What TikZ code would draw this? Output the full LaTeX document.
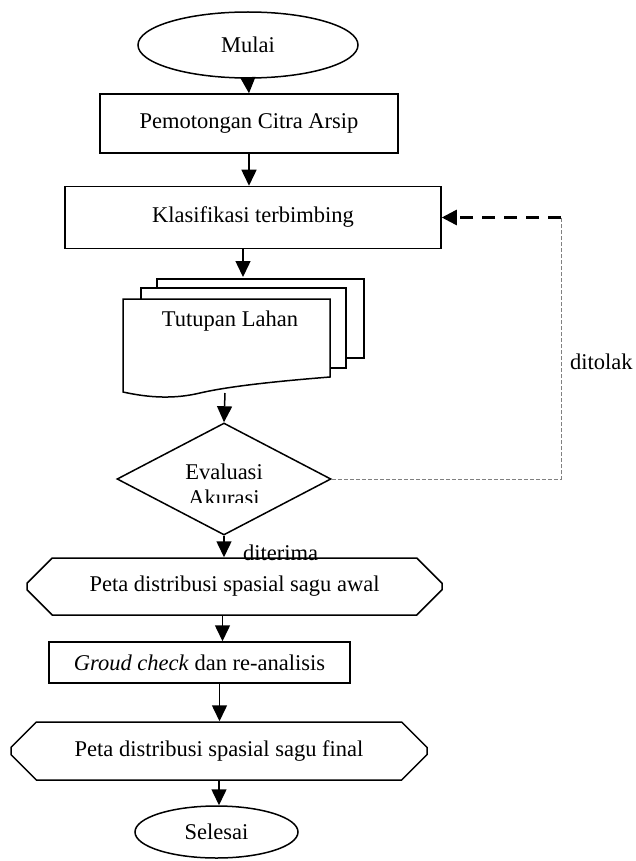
\documentclass[tikz,border=0pt]{standalone}
\usepackage{fontspec}
\setmainfont{Liberation Serif}
\usetikzlibrary{shapes.geometric,shapes.misc,arrows.meta,calc}
\begin{document}
\begin{tikzpicture}[x=1pt,y=-1pt,
  every node/.style={font=\fontsize{22.5}{26}\selectfont, inner sep=0pt},
  box/.style={draw, line width=1.5pt, rectangle},
  term/.style={draw, line width=1.5pt, ellipse},
  octo/.style={draw, line width=1.5pt, chamfered rectangle, chamfered rectangle xsep=16pt, chamfered rectangle ysep=15pt},
  docline/.style={draw, line width=1.5pt, fill=white},
  arr/.style={line width=1.5pt, -{Triangle[width=15pt,length=16pt]}},
  fbthin/.style={gray, line width=0.9pt, dash pattern=on 4pt off 2pt},
  fbthick/.style={line width=2.6pt, dash pattern=on 13pt off 9pt, -{Triangle[width=15pt,length=15pt]}}
]
\useasboundingbox (0,0) rectangle (636,861);

% nodes
\node[term, minimum width=220pt, minimum height=66pt] (start) at (248,45) {Mulai};
\node[box, minimum width=298pt, minimum height=59pt] (cut) at (249,123.5) {Pemotongan Citra Arsip};
\node[box, minimum width=376pt, minimum height=62pt] (cls) at (253,217.5) {Klasifikasi terbimbing};

% document stack
\draw[docline] (157,279) -- (364,279) -- (364,358) -- (346,358) -- (346,360) -- (157,360) -- cycle;
\draw[docline] (141,288) -- (346,288) -- (346,368) -- (330,368) -- (330,372) -- (141,372) -- cycle;
\draw[docline] (123,299) -- (330,299) -- (330,377)
  .. controls (280,381) and (230,386) .. (200,393)
  .. controls (175,399) and (150,398) .. (123,392) -- cycle;
\node (doc) at (230,321) {Tutupan Lahan};
\coordinate (doctop) at (243,277);
\coordinate (docbot) at (225,393);

% decision
\node[draw, line width=1.5pt, diamond, shape aspect=1.91, minimum width=214pt, minimum height=112pt] (dia) at (224,479) {};
\begin{scope}
  \clip (110,440) rectangle (340,502.5);
  \node[align=center] (dialbl) at (224,485) {Evaluasi\\Akurasi};
\end{scope}

\node[octo, minimum width=415pt, minimum height=57pt] (oct1) at (234.5,586.5) {Peta distribusi spasial sagu awal};
\node[box, minimum width=301pt, minimum height=41pt] (gc) at (199.5,662.5) {\textit{Groud check} dan re-analisis};
\node[octo, minimum width=416pt, minimum height=58pt] (oct2) at (219,751) {Peta distribusi spasial sagu final};
\node[term, minimum width=163pt, minimum height=52pt] (end) at (216.5,832) {Selesai};

% labels
\node[anchor=west] (acc) at (243,553) {diterima};
\node[anchor=west] (rej) at (570,362) {ditolak};

% connectors
\draw[arr] (start.south) -- (cut.north);
\draw[arr] (cut.south) -- (cut.south |- cls.north);
\draw[arr] (cls.south -| doctop) -- (doctop);
\draw[arr] (docbot) -- (dia.north);
\draw[arr] (dia.south) -- (dia.south |- oct1.north);
\draw[arr] ([xshift=-12pt]oct1.south) -- ([xshift=-12pt]oct1.south |- gc.north);
\draw[arr] ([xshift=20pt]gc.south) -- ([xshift=20pt]gc.south |- oct2.north);
\draw[arr] (oct2.south) -- (oct2.south |- end.north);

% feedback
\coordinate (fb) at (561,217.5);
\draw[fbthin] (dia.east) -| (fb);
\draw[fbthick] (fb) -- (cls.east);
\end{tikzpicture}
\end{document}
